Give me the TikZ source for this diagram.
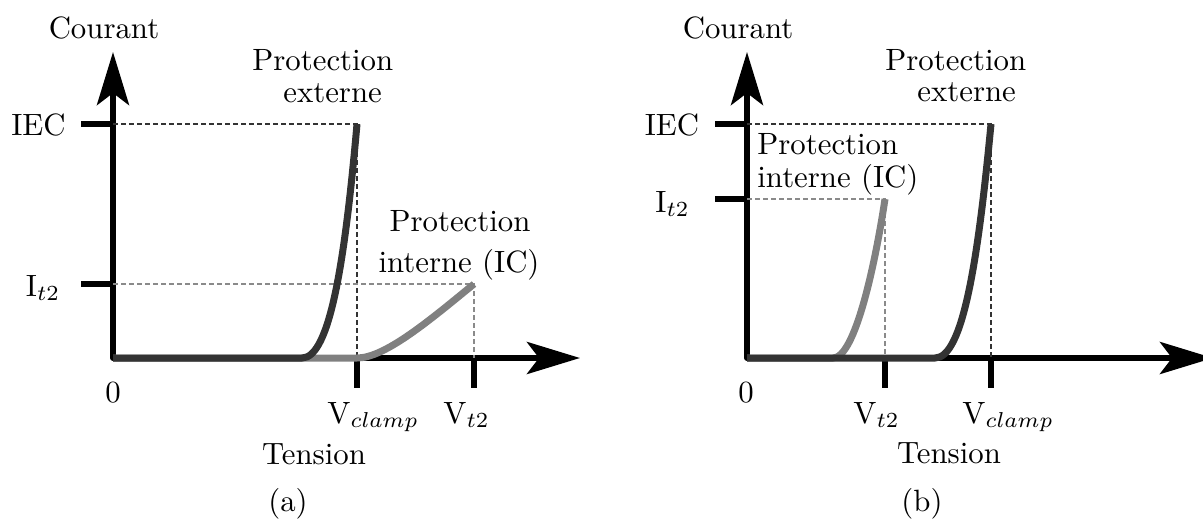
\RequirePackage{fix-cm}
\documentclass[tikz,border=0pt]{standalone}
\usetikzlibrary{arrows.meta}
\definecolor{darkc}{HTML}{333333}
\definecolor{greyc}{HTML}{808080}
\definecolor{greyd}{HTML}{8A8A8A}
\newcommand{\bigtxt}[1]{\scalebox{1.54}{#1}}
\begin{document}
\begin{tikzpicture}[x=0.5pt,y=-0.5pt,
  lbl/.style={font=\fontsize{10}{12}\selectfont, inner sep=0pt},
  axistip/.tip={Stealth[length=26.5pt,width=16pt,inset=6pt]},
  axis/.style={line width=3pt, line join=round, axistip-axistip},
  tickmark/.style={line width=3pt},
  darkcurve/.style={line width=3.5pt, draw=darkc},
  greycurve/.style={line width=3.5pt, draw=greyc},
  darkdash/.style={line width=1pt, draw=darkc, dash pattern=on 2.6pt off 1.4pt},
  greydash/.style={line width=1pt, draw=greyd, dash pattern=on 2.6pt off 1.4pt}]
\useasboundingbox (0,0) rectangle (1203,519);

% ---------------- panel (a) ----------------
\coordinate (O1) at (113,358);
\coordinate (Y1) at (113,52);
\coordinate (X1) at (580,358);
\coordinate (IECa1) at (81,124);
\coordinate (IECb1) at (113,124);
\coordinate (ITa1) at (81,284);
\coordinate (ITb1) at (113,284);
\coordinate (VCa1) at (357,358);
\coordinate (VCb1) at (357,388);
\coordinate (VTa1) at (474,358);
\coordinate (VTb1) at (474,388);
\coordinate (TopD1) at (357,124);
\coordinate (TopG1) at (474,284);

\draw[axis] (Y1) -- (O1) -- (X1);
\draw[tickmark] (IECa1) -- (IECb1);
\draw[tickmark] (ITa1) -- (ITb1);
\draw[tickmark] (VCa1) -- (VCb1);
\draw[tickmark] (VTa1) -- (VTb1);
\draw[darkdash] (IECb1) -- (TopD1) -- (VCa1);
\draw[greydash] (ITb1) -- (TopG1) -- (VTa1);
\draw[greycurve] (O1) -- (357,358) .. controls (385,358) and (430,320) .. (TopG1);
\draw[darkcurve] (O1) -- (302,358) .. controls (330,358) and (345,260) .. (TopD1);

\node[lbl, anchor=base] (cour1) at (104,39) {\bigtxt{Courant}};
\node[lbl, anchor=base west] (pe1a) at (252,71) {\bigtxt{Protection}};
\node[lbl, anchor=base west] (pe1b) at (283,103) {\bigtxt{externe}};
\node[lbl, anchor=base] (pi1a) at (460,231) {\bigtxt{Protection}};
\node[lbl, anchor=base] (pi1b) at (459,272) {\bigtxt{interne (IC)}};
\node[lbl, anchor=base] (iec1) at (38.5,135) {\bigtxt{IEC}};
\node[lbl, anchor=base] (it1) at (43,296) {\bigtxt{I$_{t2}$}};
\node[lbl, anchor=base] (z1) at (113,402) {\bigtxt{0}};
\node[lbl, anchor=base west] (vc1) at (327,423) {\bigtxt{V$_{clamp}$}};
\node[lbl, anchor=base west] (vt1) at (443,423) {\bigtxt{V$_{t2}$}};
\node[lbl, anchor=base] (ten1) at (314,464) {\bigtxt{Tension}};
\node[lbl, anchor=base] (cap1) at (288,511) {\bigtxt{(a)}};

% ---------------- panel (b) ----------------
\coordinate (O2) at (747,358);
\coordinate (Y2) at (747,52);
\coordinate (X2) at (1213,358);
\coordinate (IECa2) at (715,124);
\coordinate (IECb2) at (747,124);
\coordinate (ITa2) at (715,199);
\coordinate (ITb2) at (747,199);
\coordinate (VTa2) at (885,358);
\coordinate (VTb2) at (885,388);
\coordinate (VCa2) at (991,358);
\coordinate (VCb2) at (991,388);
\coordinate (TopD2) at (991,124);
\coordinate (TopG2) at (885,199);

\draw[axis] (Y2) -- (O2) -- (X2);
\draw[tickmark] (IECa2) -- (IECb2);
\draw[tickmark] (ITa2) -- (ITb2);
\draw[tickmark] (VCa2) -- (VCb2);
\draw[tickmark] (VTa2) -- (VTb2);
\draw[darkdash] (IECb2) -- (TopD2) -- (VCa2);
\draw[greydash] (ITb2) -- (TopG2) -- (VTa2);
\draw[greycurve] (O2) -- (833,358) .. controls (855,358) and (875,265) .. (TopG2);
\draw[darkcurve] (O2) -- (935,358) .. controls (963,358) and (978,260) .. (TopD2);

\node[lbl, anchor=base] (cour2) at (738,39) {\bigtxt{Courant}};
\node[lbl, anchor=base west] (pe2a) at (885,71) {\bigtxt{Protection}};
\node[lbl, anchor=base west] (pe2b) at (917,102) {\bigtxt{externe}};
\node[lbl, anchor=base west] (pi2a) at (757,155) {\bigtxt{Protection}};
\node[lbl, anchor=base west] (pi2b) at (757,187) {\bigtxt{interne (IC)}};
\node[lbl, anchor=base] (iec2) at (672,135) {\bigtxt{IEC}};
\node[lbl, anchor=base] (it2) at (672.5,212) {\bigtxt{I$_{t2}$}};
\node[lbl, anchor=base] (z2) at (746,402) {\bigtxt{0}};
\node[lbl, anchor=base west] (vt2) at (853,423) {\bigtxt{V$_{t2}$}};
\node[lbl, anchor=base west] (vc2) at (962,423) {\bigtxt{V$_{clamp}$}};
\node[lbl, anchor=base] (ten2) at (949,463) {\bigtxt{Tension}};
\node[lbl, anchor=base] (cap2) at (922,511) {\bigtxt{(b)}};
\end{tikzpicture}
\end{document}
